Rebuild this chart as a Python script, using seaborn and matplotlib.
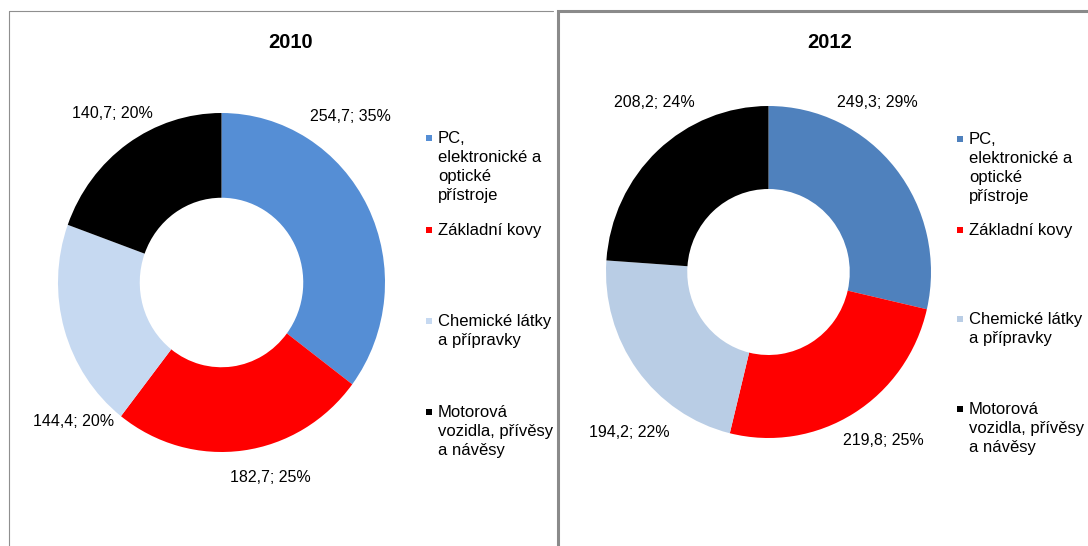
import matplotlib
matplotlib.use("Agg")
import matplotlib.pyplot as plt
from matplotlib.lines import Line2D
from matplotlib.patches import Rectangle
import seaborn as sns

# data
categories = [
    "PC,\nelektronické a\noptické\npřístroje",
    "Základní kovy",
    "Chemické látky\na přípravky",
    "Motorová\nvozidla, přívěsy\na návěsy",
]
years = ["2010", "2012"]
values_2010 = [254.7, 182.7, 144.4, 140.7]
values_2012 = [249.3, 219.8, 194.2, 208.2]
pct_2010 = [35, 25, 20, 20]
pct_2012 = [29, 25, 22, 24]

colors_2010 = ["#558ED5", "#FF0000", "#C6D9F1", "#000000"]
colors_2012 = ["#4F81BD", "#FF0000", "#B9CDE5", "#000000"]

W, H = 1088, 546

sns.set_theme(style="white")
plt.rcParams["font.family"] = ["Liberation Sans", "DejaVu Sans"]


def fx(x):
    return x / W


def fy(y):
    return 1 - y / H


def fmt(v, p):
    return f"{v:.1f}".replace(".", ",") + f"; {p}%"


# layout (pixels): donut box, title centre, label spots, legend
panels = [
    dict(box=(58, 113, 327, 339), title=(291, 42),
         labels=[(0.786, 0.982), (0.297, -1.153), (-0.902, -0.823), (-0.670, 1.0)],
         mark_x=429, text_x=438, rows=[138, 230, 321, 412]),
    dict(box=(606, 106, 325, 332), title=(830, 42),
         labels=[(0.671, 1.024), (0.708, -1.018), (-0.855, -0.964), (-0.702, 1.024)],
         mark_x=960, text_x=969, rows=[139, 230, 319, 409]),
]

fig = plt.figure(figsize=(W / 100, H / 100), dpi=100)
fig.patch.set_facecolor("white")

# panel frames: left one shows only its left and top edges
fig.add_artist(Line2D([fx(9), fx(9), fx(553)], [fy(560), fy(10.5), fy(10.5)],
                      transform=fig.transFigure, color="#8f8f8f", lw=0.8))
fig.add_artist(Rectangle((fx(558), fy(560)), fx(600), 549 / H, transform=fig.transFigure,
                         fill=False, ec="#8a8a8a", lw=2.2))

for year, vals, pcts, cols, lay in zip(years, [values_2010, values_2012],
                                       [pct_2010, pct_2012],
                                       [colors_2010, colors_2012], panels):
    x0, y0, w, h = lay["box"]
    ax = fig.add_axes([fx(x0), fy(y0 + h), fx(w), h / H])
    ax.pie(vals, colors=cols, startangle=90, counterclock=False,
           wedgeprops=dict(width=0.5, edgecolor="none"))
    ax.set_aspect("auto")
    ax.set_xlim(-1, 1)
    ax.set_ylim(-1, 1)
    ax.axis("off")

    for v, p, (lx, ly) in zip(vals, pcts, lay["labels"]):
        ax.text(lx, ly, fmt(v, p), ha="center", va="center", fontsize=11.5,
                color="#000000", clip_on=False)

    tx, ty = lay["title"]
    fig.text(fx(tx), fy(ty), year, ha="center", va="center", fontsize=14.5,
             fontweight="bold", color="#000000")

    for cat, col, ry in zip(categories, cols, lay["rows"]):
        m = 6
        fig.add_artist(Rectangle((fx(lay["mark_x"] - m / 2), fy(ry + m / 2)), fx(m), m / H,
                                 transform=fig.transFigure, color=col, lw=0))
        fig.text(fx(lay["text_x"]), fy(ry - 7), cat, ha="left", va="top",
                 fontsize=12, linespacing=1.32, color="#000000")

fig.savefig("out.png", dpi=100, facecolor="white")
